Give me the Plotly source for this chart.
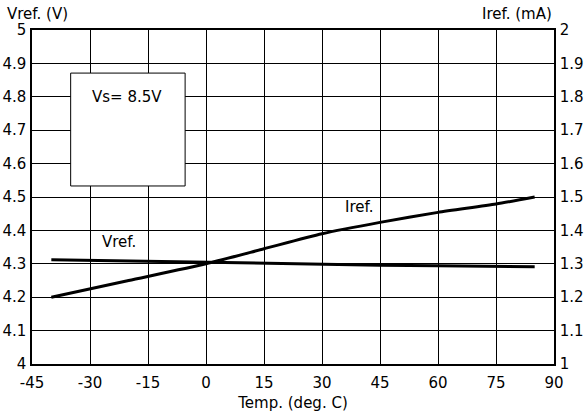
import plotly.graph_objects as go

# temperature (deg C)
temp = [-40, -20, 0, 15, 30, 45, 60, 75, 85]
# reference voltage (V), left axis
vref = [4.312, 4.308, 4.303, 4.301, 4.299, 4.296, 4.294, 4.292, 4.291]
# reference current (mA), right axis
iref = [1.20, 1.25, 1.30, 1.345, 1.39, 1.424, 1.454, 1.479, 1.50]

x_ticks = [-45, -30, -15, 0, 15, 30, 45, 60, 75, 90]
x_labels = ["-45", "-30", "-15", "0", "15", "30", "45", "60", "75", "90"]
v_ticks = [4, 4.1, 4.2, 4.3, 4.4, 4.5, 4.6, 4.7, 4.8, 4.9, 5]
i_ticks = [1, 1.1, 1.2, 1.3, 1.4, 1.5, 1.6, 1.7, 1.8, 1.9, 2]

font = dict(family="DejaVu Sans, sans-serif", size=15, color="black")

fig = go.Figure()
fig.add_trace(go.Scatter(x=temp, y=vref, mode="lines", line=dict(color="black", width=3),
                         showlegend=False, hoverinfo="skip", yaxis="y"))
fig.add_trace(go.Scatter(x=temp, y=iref, mode="lines", line=dict(color="black", width=3, shape="spline", smoothing=0.6),
                         showlegend=False, hoverinfo="skip", yaxis="y2"))

# condition box
fig.add_shape(type="rect", xref="x", yref="y", x0=-35, x1=-5.4, y0=4.533, y1=4.871,
              line=dict(color="black", width=1), fillcolor="white", layer="above")

fig.add_annotation(x=-20.5, y=4.80, xref="x", yref="y", text="Vs= 8.5V", showarrow=False, font=font)
fig.add_annotation(x=-22.5, y=4.366, xref="x", yref="y", text="Vref.", showarrow=False, font=font)
fig.add_annotation(x=39.5, y=1.47, xref="x", yref="y2", text="Iref.", showarrow=False, font=font)

fig.add_annotation(x=0, y=1, xref="paper", yref="paper", yanchor="bottom", xanchor="left",
                   xshift=-27, yshift=5, text="Vref. (V)", showarrow=False, font=font)
fig.add_annotation(x=1, y=1, xref="paper", yref="paper", yanchor="bottom", xanchor="right",
                   yshift=5, text="Iref. (mA)", showarrow=False, font=font)

axis_common = dict(showgrid=True, gridcolor="black", gridwidth=1, showline=True,
                   linecolor="black", linewidth=1.5, ticks="", zeroline=False,
                   tickfont=font, automargin=False)

fig.update_layout(
    width=587, height=416,
    margin=dict(l=32, r=33, t=30, b=52),
    paper_bgcolor="white", plot_bgcolor="white",
    font=font,
    hovermode=False,
    xaxis=dict(range=[-45, 90], tickvals=x_ticks, ticktext=x_labels, mirror=True,
               ticklabelstandoff=4,
               title=dict(text="Temp. (deg. C)", font=font, standoff=7), **axis_common),
    yaxis=dict(range=[4, 5], tickvals=v_ticks, ticklabelstandoff=1, **axis_common),
    yaxis2=dict(range=[1, 2], tickvals=i_ticks, overlaying="y", side="right",
                showgrid=False, showline=True, linecolor="black", linewidth=1.5,
                ticks="", zeroline=False, tickfont=font, automargin=False,
                ticklabelstandoff=1),
)

fig.write_html("out.html", config={"displayModeBar": False},
               post_script="document.body.style.margin='0';")
